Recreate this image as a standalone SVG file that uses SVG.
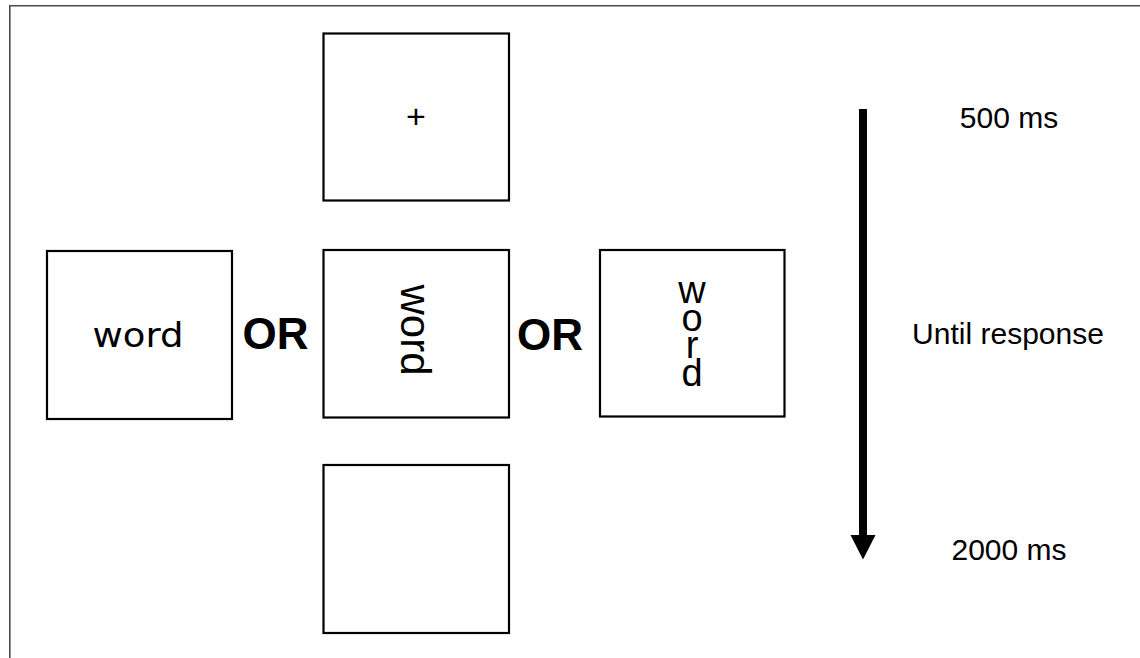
<svg xmlns="http://www.w3.org/2000/svg" width="1140" height="658" viewBox="0 0 1140 658">
<style>
.box{fill:#fff;stroke:#000;stroke-width:2.2}
.t{font-family:"Liberation Sans",Arial,sans-serif;fill:#000}
.or{font-family:"Liberation Sans",Arial,sans-serif;font-weight:bold;font-size:44px;fill:#000;text-anchor:middle}
.lbl{font-family:"Liberation Sans",Arial,sans-serif;font-size:30px;fill:#000;text-anchor:middle}
</style>
<defs>
<marker id="ah" markerUnits="userSpaceOnUse" markerWidth="26" markerHeight="26" refX="0" refY="0" viewBox="0 -13 26 26" orient="auto" overflow="visible">
<path d="M0,-12.5 L24.5,0 L0,12.5 Z" fill="#000"/>
</marker>
</defs>
<rect width="1140" height="658" fill="#fff"/>
<path d="M9.8,658 V5.8 H1140" fill="none" stroke="#4a4a4a" stroke-width="1.6"/>
<g id="fixation">
<rect class="box" x="323.5" y="33.5" width="185.5" height="167"/>
<text class="t" x="416" y="128" font-size="34" text-anchor="middle">+</text>
</g>
<g id="word-horizontal">
<rect class="box" x="47" y="251" width="185" height="168"/>
<text x="138" y="347" font-family="'DejaVu Sans',Verdana,sans-serif" font-size="34" text-anchor="middle" textLength="91" lengthAdjust="spacingAndGlyphs">word</text>
</g>
<g id="or-left"><text class="or" x="275.5" y="349">OR</text></g>
<g id="word-rotated">
<rect class="box" x="323.5" y="250" width="185.5" height="167.5"/>
<text class="t" font-size="42" text-anchor="middle" transform="translate(401,330) rotate(90)">word</text>
</g>
<g id="or-right"><text class="or" x="550" y="350">OR</text></g>
<g id="word-stacked">
<rect class="box" x="600" y="250" width="184.5" height="166.5"/>
<text class="t" font-size="38" text-anchor="middle"><tspan x="692" y="303">w</tspan><tspan x="692" y="331">o</tspan><tspan x="692" y="358">r</tspan><tspan x="692" y="386">d</tspan></text>
</g>
<g id="blank">
<rect class="box" x="323.5" y="465" width="185.5" height="168"/>
</g>
<g id="connectors">
<line x1="863" y1="109" x2="863" y2="535" stroke="#000" stroke-width="8" marker-end="url(#ah)"/>
</g>
<g id="timing-labels">
<text class="lbl" x="1009" y="128">500 ms</text>
<text class="lbl" x="1008" y="344">Until response</text>
<text class="lbl" x="1009" y="560">2000 ms</text>
</g>
</svg>
